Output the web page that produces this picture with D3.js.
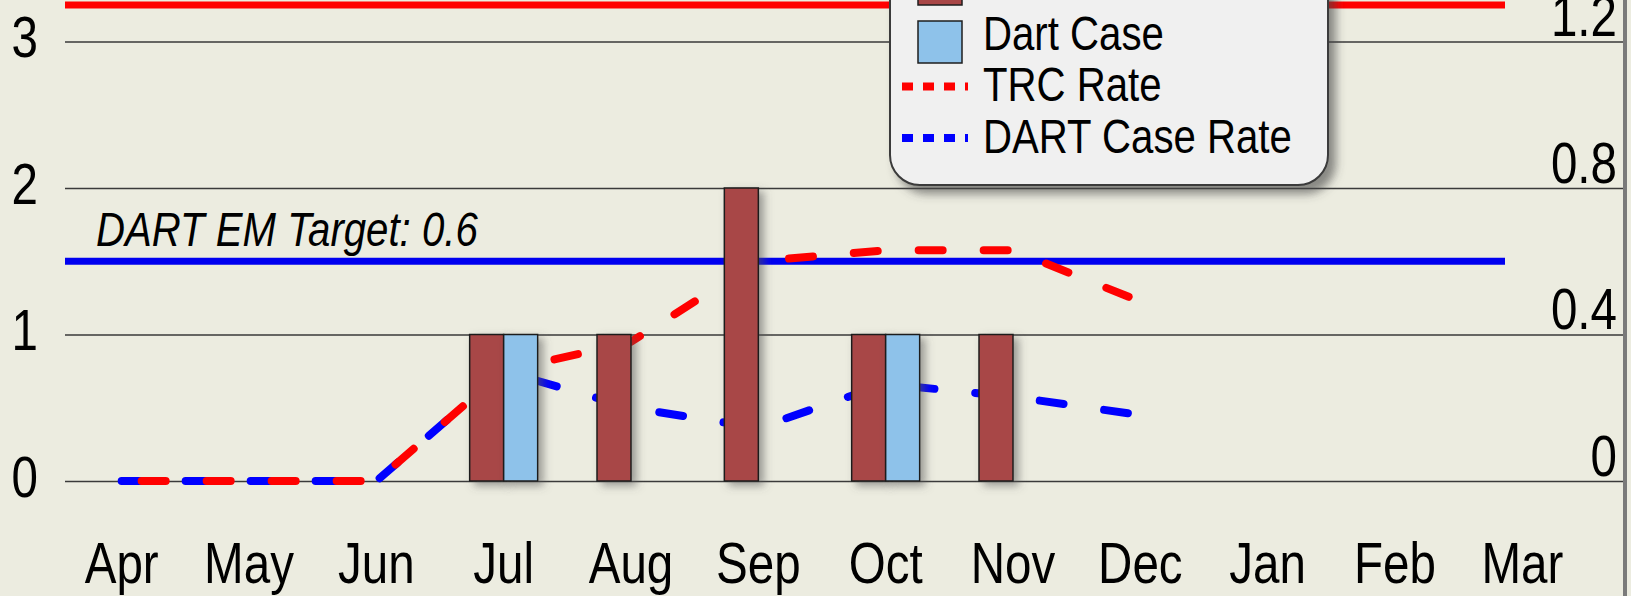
<!DOCTYPE html>
<html lang="en">
<head>
  <meta charset="UTF-8">
  <title>TRC / DART</title>
  <script src="https://d3js.org/d3.v7.min.js"></script>
  <style>
    body { margin: 0; background: #ecece0; }
    svg { font-family: "Liberation Sans", Arial, sans-serif; display: block; }
    .tick text { fill: #000; }
  </style>
</head>
<body>
  <svg></svg>
  <script>
    const months = ['Apr', 'May', 'Jun', 'Jul', 'Aug', 'Sep', 'Oct', 'Nov', 'Dec', 'Jan', 'Feb', 'Mar'];
    const trcCases = [0, 0, 0, 1, 1, 2, 1, 1, 0, 0, 0, 0];
    const dartCases = [0, 0, 0, 1, 0, 0, 1, 0, 0, 0, 0, 0];
    // rates only reported Apr..Dec
    const trcRate = [0, 0, 0, 0.30, 0.38, 0.60, 0.63, 0.63, 0.49];
    const dartRate = [0, 0, 0, 0.30, 0.20, 0.145, 0.265, 0.23, 0.18];
    const leftTicks = [0, 1, 2, 3];
    const rightTicks = [0, 0.4, 0.8, 1.2];
    const targetLabels = ['TRC EM Target: 1.3', 'DART EM Target: 0.6'];
    const targetValues = [1.3, 0.6];
    const legendLabels = ['TRC Case', 'Dart Case', 'TRC Rate', 'DART Case Rate'];

    const W = 1631, H = 596;
    const plotLeft = 65, plotRight = 1625;
    const sx = 0.82; // the original uses a narrow face

    function narrow(sel, xPos) {
      sel.attr('x', xPos / sx).attr('transform', `scale(${sx},1)`);
    }

    const svg = d3.select('svg').attr('width', W).attr('height', H);

    const defs = svg.append('defs');
    defs.append('filter').attr('id', 'barShadow')
        .attr('x', '-50%').attr('y', '-20%').attr('width', '200%').attr('height', '140%')
      .append('feDropShadow')
        .attr('dx', 5).attr('dy', 4).attr('stdDeviation', 4)
        .attr('flood-color', '#555').attr('flood-opacity', 0.55);
    defs.append('filter').attr('id', 'boxShadow')
        .attr('x', '-10%').attr('y', '-10%').attr('width', '130%').attr('height', '130%')
      .append('feDropShadow')
        .attr('dx', 7).attr('dy', 8).attr('stdDeviation', 5)
        .attr('flood-color', '#444').attr('flood-opacity', 0.6);

    svg.append('rect').attr('width', W).attr('height', H).attr('fill', '#ecece0');

    const x = d3.scaleBand()
        .domain(months)
        .range([58, 1586])
        .paddingInner(0.466)
        .paddingOuter(0.233);

    const x1 = d3.scaleBand()
        .domain(['trc', 'dart'])
        .range([0, x.bandwidth()]);

    const yL = d3.scaleLinear().domain([0, 3]).range([481, 41.5]);
    const yR = d3.scaleLinear().domain([0, 1.2]).range([481, 41.5]);

    // gridlines + left labels
    const gl = svg.append('g')
        .attr('transform', `translate(${plotLeft},0)`)
        .call(d3.axisLeft(yL).tickValues(leftTicks).tickFormat(d3.format('d')).tickSize(-(plotRight - plotLeft)));
    gl.select('.domain').remove();
    gl.selectAll('.tick line').attr('stroke', '#3a3a3a').attr('stroke-width', 1.6);
    gl.selectAll('.tick text')
        .attr('dy', null).attr('y', 15)
        .style('font-size', '58px')
        .call(narrow, -27);

    // right axis
    svg.append('line')
        .attr('x1', plotRight).attr('x2', plotRight).attr('y1', 0).attr('y2', H)
        .attr('stroke', '#7a7a7a').attr('stroke-width', 4);
    const gr = svg.append('g')
        .attr('transform', 'translate(1617,0)')
        .call(d3.axisRight(yR).tickValues(rightTicks).tickFormat(d => d === 0 ? '0' : d3.format('.1f')(d)).tickSize(0));
    gr.select('.domain').remove();
    gr.selectAll('.tick text')
        .attr('dy', null).attr('y', -6)
        .attr('text-anchor', 'end')
        .style('font-size', '58px')
        .call(narrow, 0);

    // month labels
    const gx = svg.append('g')
        .attr('transform', 'translate(0,481)')
        .call(d3.axisBottom(x).tickSize(0));
    gx.select('.domain').remove();
    gx.selectAll('.tick text')
        .attr('dy', null).attr('y', 102)
        .style('font-size', '58px')
        .call(narrow, 0);

    // target lines
    const targetColors = ['#ff0000', '#0000f0'];
    targetValues.forEach((v, i) => {
      svg.append('line')
          .attr('x1', plotLeft).attr('x2', 1505)
          .attr('y1', yR(v)).attr('y2', yR(v))
          .attr('stroke', targetColors[i]).attr('stroke-width', 7);
      svg.append('text')
          .attr('y', yR(v) - 15)
          .style('font-size', '49px').style('font-style', 'italic')
          .text(targetLabels[i])
          .call(narrow, 96);
    });

    // rate lines (dashed)
    const line = d3.line()
        .x((d, i) => x(months[i]) + x.bandwidth() / 2)
        .y(d => yR(d));

    svg.append('path')
        .datum(dartRate)
        .attr('d', line)
        .attr('fill', 'none')
        .attr('stroke', '#0000ff').attr('stroke-width', 8)
        .attr('stroke-linecap', 'round')
        .attr('stroke-dasharray', '24 41').attr('stroke-dashoffset', 1);

    svg.append('path')
        .datum(trcRate)
        .attr('d', line)
        .attr('fill', 'none')
        .attr('stroke', '#ff0000').attr('stroke-width', 8)
        .attr('stroke-linecap', 'round')
        .attr('stroke-dasharray', '24 41').attr('stroke-dashoffset', 45);

    // bars
    const bars = months.map((m, i) => [
      { month: m, key: 'trc', value: trcCases[i] },
      { month: m, key: 'dart', value: dartCases[i] }
    ]).flat().filter(d => d.value > 0);

    svg.selectAll('.bar')
        .data(bars)
        .enter()
        .append('rect')
        .attr('class', 'bar')
        .attr('x', d => x(d.month) + x1(d.key))
        .attr('y', d => yL(d.value))
        .attr('width', x1.bandwidth())
        .attr('height', d => yL(0) - yL(d.value))
        .attr('fill', d => d.key === 'trc' ? '#a84646' : '#8ec2ea')
        .attr('stroke', '#1e1e1e').attr('stroke-width', 1.5)
        .attr('filter', 'url(#barShadow)');

    // legend
    const lg = svg.append('g');
    lg.append('rect')
        .attr('x', 890).attr('y', -140).attr('width', 438).attr('height', 325)
        .attr('rx', 30).attr('ry', 30)
        .attr('fill', '#f0f0f0').attr('stroke', '#3a3a3a').attr('stroke-width', 2)
        .attr('filter', 'url(#boxShadow)');

    const rowBase = [-1.5, 50, 101.5, 153];
    legendLabels.forEach((t, i) => {
      lg.append('text')
          .attr('y', rowBase[i])
          .style('font-size', '49px')
          .text(t)
          .call(narrow, 983);
    });
    [0, 1].forEach(i => {
      lg.append('rect')
          .attr('x', 918).attr('y', rowBase[1] - 29 - (1 - i) * 58)
          .attr('width', 44).attr('height', 42)
          .attr('fill', i === 0 ? '#a84646' : '#8ec2ea')
          .attr('stroke', '#1e1e1e').attr('stroke-width', 1.5);
    });
    ['#ff0000', '#0000ff'].forEach((c, i) => {
      const yy = rowBase[2 + i] - 15;
      lg.append('line')
          .attr('x1', 902).attr('x2', 968).attr('y1', yy).attr('y2', yy)
          .attr('stroke', c).attr('stroke-width', 8)
          .attr('stroke-dasharray', '11 10');
    });
  </script>
</body>
</html>
